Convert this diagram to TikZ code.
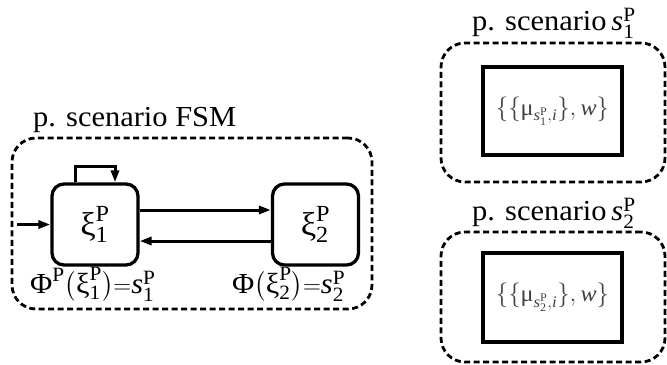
\documentclass[tikz,border=0pt]{standalone}
\usepackage{fontspec}
\usepackage{amsmath}
\setmainfont{Liberation Serif}[FakeStretch=1.05]
\usetikzlibrary{arrows.meta}
\newcommand{\tx}[1]{\text{#1}}
\newcommand{\ti}[1]{\text{\itshape #1}}
\tikzset{
  dbox/.style={draw, line width=2.8bp, dash pattern=on 6bp off 3.5bp, rounded corners=24bp, inner sep=0pt},
  state/.style={draw, line width=3.3bp, rounded corners=12bp, minimum width=86bp, minimum height=81bp, inner sep=0pt,
    font=\fontsize{33bp}{38bp}\selectfont},
  inbox/.style={draw, line width=3.3bp, minimum width=139bp, inner sep=0pt, text=black!75,
    font=\fontsize{23bp}{27bp}\selectfont},
  arr/.style={line width=3bp, -{Triangle[length=12bp,width=8bp]}},
  ttl/.style={anchor=base west, inner sep=0pt, font=\fontsize{29bp}{34bp}\selectfont},
}
\begin{document}
\begin{tikzpicture}[x=1bp, y=-1bp]
\useasboundingbox (0,0) rectangle (667,364);
% FSM container
\node[dbox, minimum width=360bp, minimum height=171bp] (fsm) at (192,223.5) {};
\node[ttl] (fsmt) at (33,126) {p. scenario FSM};
% states
\node[state] (x1) at (95,224.5) {$\tx{ξ}^{\tx{P}}_{\tx{1}}$};
\node[state] (x2) at (315.5,224.5) {$\tx{ξ}^{\tx{P}}_{\tx{2}}$};
\coordinate (entry) at (17,224.5);
\draw[arr] (entry) -- (x1.west);
\draw[arr] ([yshift=14.5bp]x1.east) -- ([yshift=14.5bp]x2.west);
\draw[arr] ([yshift=-16.5bp]x2.west) -- ([yshift=-16.5bp]x1.east);
\draw[arr] ([xshift=-20bp]x1.north) -- ++(0,-16) -| ([xshift=20bp]x1.north);
% labels
\node[ttl] (l1) at (30,293) {$\tx{Φ}^{\tx{P}}\bigl(\tx{ξ}^{\tx{P}}_{\tx{1}}\bigr){=}\ti{s}^{\tx{P}}_{\tx{1}}$};
\node[ttl] (l2) at (232,293) {$\tx{Φ}\bigl(\tx{ξ}^{\tx{P}}_{\tx{2}}\bigr){=}\ti{s}^{\tx{P}}_{\tx{2}}$};
% scenario s1
\node[dbox, minimum width=224bp, minimum height=139bp] (sc1) at (553,112.5) {};
\node[ttl] (sc1t) at (472,30) {p. scenario\,$\ti{s}^{\tx{P}}_{\tx{1}}$};
\node[inbox, minimum height=88bp] (in1) at (552.5,111) {$\{\{\tx{μ}_{\ti{s}^{\tx{P}}_{\tx{1}},\ti{i}}\},\ti{w}\}$};
% scenario s2
\node[dbox, minimum width=224bp, minimum height=130bp] (sc2) at (553,297) {};
\node[ttl] (sc2t) at (472,220) {p. scenario\,$\ti{s}^{\tx{P}}_{\tx{2}}$};
\node[inbox, minimum height=89bp] (in2) at (552.5,297.5) {$\{\{\tx{μ}_{\ti{s}^{\tx{P}}_{\tx{2}},\ti{i}}\},\ti{w}\}$};
\end{tikzpicture}
\end{document}
